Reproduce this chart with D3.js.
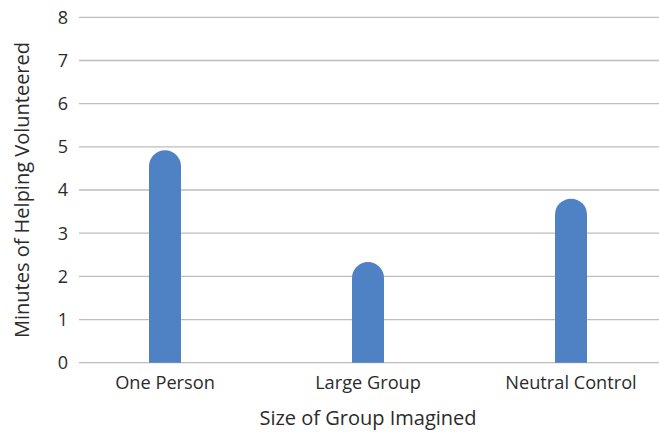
<!DOCTYPE html>
<html>
<head>
<meta charset="utf-8">
<script src="https://d3js.org/d3.v7.min.js"></script>
<style>
  body { margin: 0; background: #fff; }
  text { font-family: "Open Sans", sans-serif; fill: #2b2b2b; }
</style>
</head>
<body>
<svg id="drawing_region"></svg>
<script>
const groups = ['One Person', 'Large Group', 'Neutral Control'];
const minutes = [4.92, 2.33, 3.8];
const yTicks = [0, 1, 2, 3, 4, 5, 6, 7, 8];

const width = 659, height = 432;
const gridLeft = 79, gridRight = 659;
const plotTop = 17.3, plotBottom = 362.7;

const svg = d3.select('#drawing_region')
    .attr('width', width)
    .attr('height', height);

const x = d3.scaleBand()
    .domain(groups)
    .range([63.5, 672.5]);

const y = d3.scaleLinear()
    .domain([0, 8])
    .range([plotBottom, plotTop]);

// grid lines
svg.append('g')
    .selectAll('line')
    .data(yTicks)
    .enter()
    .append('line')
    .attr('x1', gridLeft)
    .attr('x2', gridRight)
    .attr('y1', d => y(d))
    .attr('y2', d => y(d))
    .attr('stroke', '#bdbdbd')
    .attr('stroke-width', 1.3);

// y tick labels
svg.append('g')
    .selectAll('text')
    .data(yTicks)
    .enter()
    .append('text')
    .attr('x', 68)
    .attr('y', d => y(d))
    .attr('dy', '0.36em')
    .attr('text-anchor', 'end')
    .style('font-size', '18px')
    .text(d => d);

// bars with rounded top
const barW = 32;
const r = barW / 2;
svg.append('g')
    .selectAll('path')
    .data(groups)
    .enter()
    .append('path')
    .attr('d', (d, i) => {
        const cx = x(d) + x.bandwidth() / 2;
        const x0 = cx - r, x1 = cx + r;
        const yt = y(minutes[i]);
        const yb = y(0);
        return `M${x0},${yb} L${x0},${yt + r} A${r},${r} 0 0 1 ${x1},${yt + r} L${x1},${yb} Z`;
    })
    .attr('fill', '#4f81c5');

// x labels
svg.append('g')
    .selectAll('text')
    .data(groups)
    .enter()
    .append('text')
    .attr('x', d => x(d) + x.bandwidth() / 2)
    .attr('y', 389)
    .attr('text-anchor', 'middle')
    .style('font-size', '18.2px')
    .text(d => d);

// axis titles
svg.append('text')
    .attr('x', 368)
    .attr('y', 425)
    .attr('text-anchor', 'middle')
    .style('font-size', '20px')
    .text('Size of Group Imagined');

svg.append('text')
    .attr('transform', `translate(29, ${(plotTop + plotBottom) / 2}) rotate(-90)`)
    .attr('text-anchor', 'middle')
    .style('font-size', '20px')
    .text('Minutes of Helping Volunteered');
</script>
</body>
</html>
